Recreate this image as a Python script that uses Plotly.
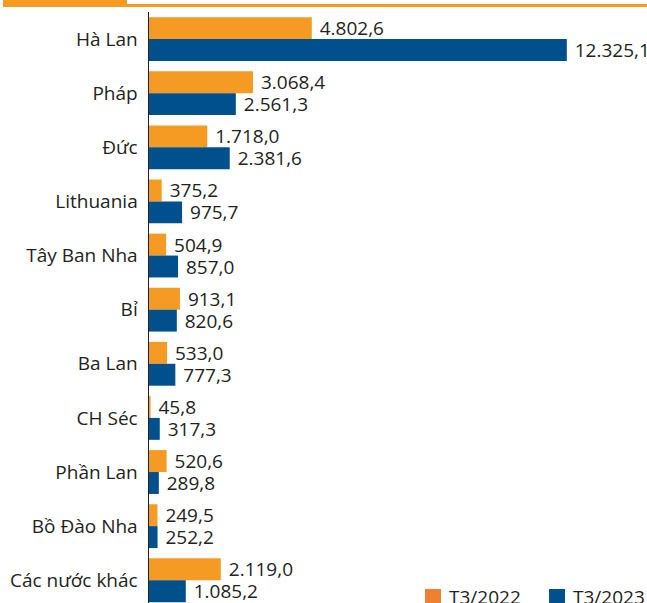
import plotly.graph_objects as go

categories = ["Hà Lan", "Pháp", "Đức", "Lithuania", "Tây Ban Nha", "Bỉ",
              "Ba Lan", "CH Séc", "Phần Lan", "Bồ Đào Nha", "Các nước khác"]
values_2022 = [4802.6, 3068.4, 1718.0, 375.2, 504.9, 913.1, 533.0, 45.8, 520.6, 249.5, 2119.0]
values_2023 = [12325.1, 2561.3, 2381.6, 975.7, 857.0, 820.6, 777.3, 317.3, 289.8, 252.2, 1085.2]
series_names = ["T3/2022", "T3/2023"]

ORANGE = "#F59B23"
BLUE = "#00508E"
LEG_ORANGE = "#EF7F32"
TXT = "#231F20"
FONT = "Open Sans"
FS = 19

W, H = 647, 603
ML, MT = 149, 12
PW, PH = W - ML, H - MT


def vn(v):
    s = f"{v:,.1f}"
    return s.replace(",", "X").replace(".", ",").replace("X", ".")


def px(x):
    return (x - ML) / PW


def py(y):
    return (H - y) / PH


fig = go.Figure()
for name, vals, col in [(series_names[0], values_2022, ORANGE),
                        (series_names[1], values_2023, BLUE)]:
    fig.add_trace(go.Bar(
        y=categories, x=vals, orientation="h", name=name,
        marker=dict(color=col, line=dict(width=0)),
        text=["\u00a0" + vn(v) for v in vals],
        textposition="outside", cliponaxis=False, constraintext="none",
        textfont=dict(family=FONT, size=FS, color=TXT),
        showlegend=False, hoverinfo="skip",
    ))

shapes = [
    dict(type="rect", xref="paper", yref="paper", x0=px(3), x1=px(127),
         y0=py(7), y1=py(0), fillcolor=ORANGE, line=dict(width=0), layer="above"),
    dict(type="rect", xref="paper", yref="paper", x0=px(127), x1=px(647),
         y0=py(7), y1=py(4), fillcolor=ORANGE, line=dict(width=0), layer="above"),
]
annotations = []
leg = [(series_names[0], LEG_ORANGE, 425), (series_names[1], BLUE, 549)]
for name, col, x0 in leg:
    shapes.append(dict(type="rect", xref="paper", yref="paper",
                       x0=px(x0), x1=px(x0 + 16), y0=py(606), y1=py(589),
                       fillcolor=col, line=dict(width=0)))
    annotations.append(dict(xref="paper", yref="paper", x=px(x0 + 22), y=py(597),
                            xanchor="left", yanchor="middle", showarrow=False,
                            text=name, font=dict(family=FONT, size=FS, color=TXT)))

fig.update_layout(
    width=W, height=H,
    margin=dict(l=ML, r=0, t=MT, b=0, pad=0),
    paper_bgcolor="white", plot_bgcolor="white",
    barmode="group", bargap=0.19, bargroupgap=0,
    font=dict(family=FONT, size=FS, color=TXT),
    shapes=shapes, annotations=annotations,
    hovermode=False,
    xaxis=dict(range=[0, PW / 0.0339], visible=False, fixedrange=True),
    yaxis=dict(range=[10.42, -0.5], showline=True, linecolor=TXT, linewidth=1.5,
               ticks="", showgrid=False, ticklabelstandoff=6, fixedrange=True,
               tickfont=dict(family=FONT, size=FS, color=TXT)),
)

fig.write_html("out.html", config={"displayModeBar": False, "staticPlot": True},
               post_script="document.body.style.margin='0';document.body.style.overflow='hidden';")
